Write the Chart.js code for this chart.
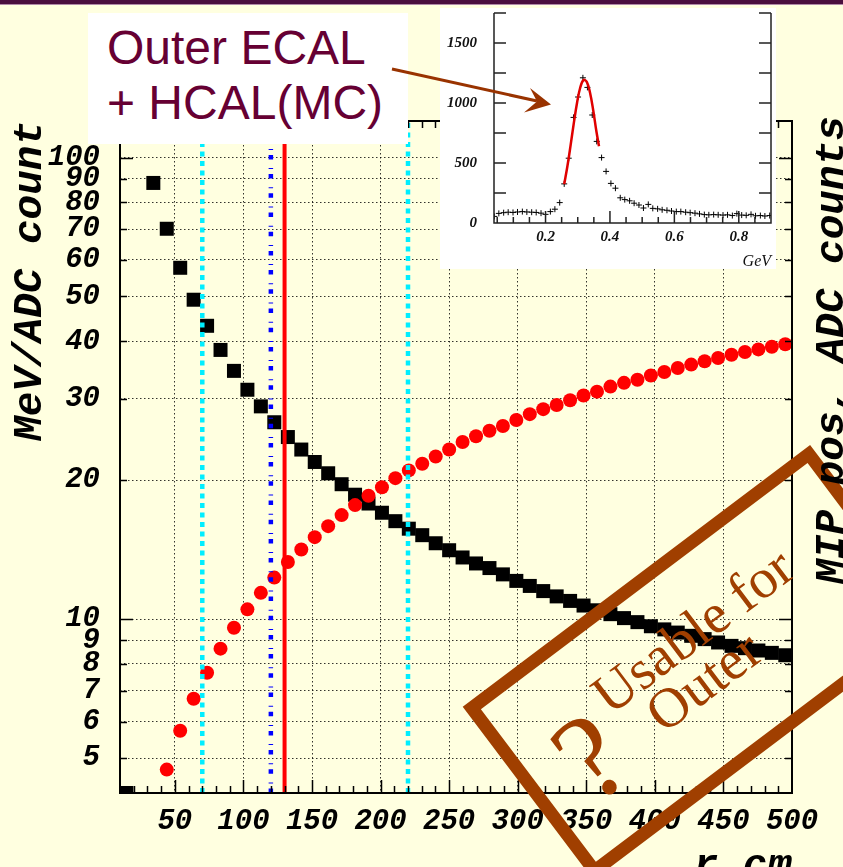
<!DOCTYPE html>
<html>
<head>
<meta charset="utf-8">
<title>Outer ECAL + HCAL calibration vs radius</title>
<script src="https://cdn.jsdelivr.net/npm/chart.js@4.4.1/dist/chart.umd.min.js"></script>
<style>
  html, body { margin: 0; padding: 0; }
  body {
    width: 843px; height: 867px; overflow: hidden; position: relative;
    background: #ffffe0; font-family: "Liberation Sans", Arial, sans-serif;
  }
  #topbar {
    position: absolute; left: 0; top: 0; width: 843px; height: 4px;
    background: #4a0e3e; border-bottom: 1px solid #b08aa8; z-index: 5;
  }
  #main { position: absolute; left: 0; top: 0; z-index: 1; }
  #caption {
    position: absolute; left: 88px; top: 13px; width: 320px; height: 131px;
    box-sizing: border-box; padding: 7px 0 0 19px; background: #fff;
    color: #660033; font-size: 48px; line-height: 55px; z-index: 2;
  }
  #inset {
    position: absolute; left: 440px; top: 8px; width: 336px; height: 261px;
    background: #fff; z-index: 2;
  }
  #arrow { position: absolute; left: 0; top: 0; z-index: 3; pointer-events: none; }
</style>
</head>
<body>
<div id="topbar"></div>
<canvas id="main" width="843" height="867"></canvas>
<div id="caption">Outer ECAL<br>+ HCAL(MC)</div>
<div id="inset"><canvas id="insetChart" width="336" height="261"></canvas></div>
<svg id="arrow" width="843" height="867">
  <line x1="392" y1="69" x2="537" y2="101" stroke="#993300" stroke-width="3"/>
  <polygon points="551,104.5 530,88 537,101.5 524,112.5" fill="#993300"/>
</svg>
<script>
// ---- main plot: calibration constants per radial bin ----
// bin centres in r (cm)
const radiusCm = [14.7, 24.5, 34.3, 44.1, 53.9, 63.7, 73.5, 83.3, 93.1, 102.9,
  112.7, 122.5, 132.4, 142.2, 152.0, 161.8, 171.6, 181.4, 191.2, 201.0,
  210.8, 220.6, 230.4, 240.2, 250.0, 259.8, 269.6, 279.4, 289.2, 299.0,
  308.8, 318.6, 328.4, 338.2, 348.0, 357.8, 367.6, 377.5, 387.3, 397.1,
  406.9, 416.7, 426.5, 436.3, 446.1, 455.9, 465.7, 475.5, 485.3, 495.1];

// MeV per ADC count (black squares)
const mevPerAdc = [4.2, null, 88.1, 70.1, 57.7, 49.2, 43.2, 38.3, 34.5, 31.4,
  28.9, 26.7, 24.8, 23.3, 21.9, 20.7, 19.6, 18.6, 17.8, 17.0,
  16.3, 15.7, 15.2, 14.6, 14.1, 13.6, 13.2, 12.9, 12.5, 12.1,
  11.8, 11.5, 11.2, 10.95, 10.7, 10.45, 10.25, 10.05, 9.85, 9.65,
  9.5, 9.35, 9.2, 9.05, 8.9, 8.75, 8.65, 8.55, 8.45, 8.35];

// MIP peak position in ADC counts (red circles)
const mipPosAdc = [null, null, null, 4.72, 5.73, 6.72, 7.65, 8.63, 9.58, 10.5,
  11.4, 12.3, 13.3, 14.15, 15.05, 15.9, 16.8, 17.66, 18.5, 19.3,
  20.2, 21.0, 21.7, 22.5, 23.3, 24.2, 24.9, 25.6, 26.2, 27.0,
  27.8, 28.5, 29.1, 29.8, 30.5, 31.1, 31.9, 32.5, 33.0, 33.7,
  34.3, 35.0, 35.6, 36.2, 36.8, 37.4, 37.9, 38.4, 38.9, 39.4];

const xTickValues = [50, 100, 150, 200, 250, 300, 350, 400, 450, 500];
const yTickValues = [5, 6, 7, 8, 9, 10, 20, 30, 40, 50, 60, 70, 80, 90, 100];

// radii of the region boundaries drawn as vertical lines
const boundaryRadii = [70, 120, 130, 220];

// ---- inset: MIP spectrum of one channel ----
const histEnergy = [0.041, 0.055, 0.070, 0.084, 0.099, 0.113, 0.128, 0.142, 0.157, 0.171,
  0.186, 0.200, 0.215, 0.229, 0.244, 0.258, 0.272, 0.287, 0.301, 0.316,
  0.330, 0.345, 0.359, 0.374, 0.388, 0.403, 0.417, 0.432, 0.446, 0.461,
  0.475, 0.490, 0.504, 0.519, 0.533, 0.548, 0.562, 0.577, 0.591, 0.606,
  0.620, 0.635, 0.649, 0.664, 0.678, 0.693, 0.707, 0.722, 0.736, 0.751,
  0.765, 0.780, 0.794, 0.809, 0.823, 0.838, 0.852, 0.867, 0.881, 0.896];
const histCounts = [55, 80, 86, 90, 88, 92, 95, 92, 90, 88,
  82, 72, 95, 115, 170, 326, 540, 880, 1050, 1210,
  1130, 900, 680, 545, 430, 330, 290, 210, 195, 185,
  165, 150, 125, 155, 122, 118, 110, 106, 100, 95,
  95, 90, 86, 82, 76, 70, 68, 70, 68, 66,
  68, 62, 78, 66, 64, 72, 60, 62, 58, 62];

// gaussian fit over the peak
const fitEnergy = [0.258, 0.268, 0.278, 0.288, 0.298, 0.308, 0.318, 0.328, 0.338, 0.348, 0.358, 0.366];
const fitCounts = [324, 475, 651, 836, 1004, 1131, 1191, 1176, 1087, 940, 762, 640];

const insetXTicks = [0.2, 0.4, 0.6, 0.8];
const insetYTicks = [0, 500, 1000, 1500];

// ---- styles ----
const monoFamily = "'Liberation Mono', 'Courier New', monospace";
const tickFont = { family: monoFamily, size: 29, style: 'italic', weight: 'bold' };
const titleFont = { family: monoFamily, size: 41, style: 'italic', weight: 'bold' };
const serifNum = { family: "'Liberation Serif', 'Times New Roman', serif", size: 15, style: 'italic', weight: 'bold' };
const stampColor = '#a03f00';

const boundaryStyles = [
  { color: '#00eeff', width: 4.5, dash: [5, 4.5] },
  { color: '#0000ff', width: 4.5, dash: [4.5, 5, 1, 8.7] },
  { color: '#ff0000', width: 4, dash: [] },
  { color: '#00eeff', width: 4.5, dash: [5, 4.5] }
];

function toPoints(xs, ys) {
  return xs.map((x, i) => ({ x: x, y: ys[i] })).filter(p => p.y != null);
}

// frame, inward ticks, boundaries, stamp and right-hand title
const mainOverlay = {
  id: 'mainOverlay',
  afterDatasetsDraw(chart) {
    const { ctx, chartArea: a, scales: { x, y } } = chart;
    ctx.save();
    boundaryRadii.forEach((r, i) => {
      const st = boundaryStyles[i];
      const px = x.getPixelForValue(r);
      ctx.strokeStyle = st.color;
      ctx.lineWidth = st.width;
      ctx.setLineDash(st.dash);
      ctx.beginPath();
      ctx.moveTo(px, a.bottom);
      ctx.lineTo(px, a.top);
      ctx.stroke();
    });
    ctx.setLineDash([]);
    ctx.strokeStyle = '#000';
    ctx.lineWidth = 1.5;
    ctx.beginPath();
    for (let r = 20; r < 500; r += 10) {
      const px = Math.round(x.getPixelForValue(r)) + 0.5;
      const len = r % 50 === 0 ? 13 : 7;
      ctx.moveTo(px, a.bottom); ctx.lineTo(px, a.bottom - len);
      ctx.moveTo(px, a.top); ctx.lineTo(px, a.top + len);
    }
    yTickValues.forEach(v => {
      const py = Math.round(y.getPixelForValue(v)) + 0.5;
      const len = (v === 10 || v === 100) ? 13 : 7;
      ctx.moveTo(a.left, py); ctx.lineTo(a.left + len, py);
      ctx.moveTo(a.right, py); ctx.lineTo(a.right - len, py);
    });
    ctx.stroke();
    ctx.lineWidth = 2;
    ctx.strokeRect(a.left, a.top, a.right - a.left, a.bottom - a.top);
    ctx.restore();
  },
  afterDraw(chart) {
    const ctx = chart.ctx;
    // tilted "? Usable for Outer" box
    ctx.save();
    ctx.translate(462.7, 706.7);
    ctx.rotate(-37 * Math.PI / 180);
    ctx.strokeStyle = stampColor;
    ctx.lineWidth = 13;
    ctx.strokeRect(6.5, 6.5, 435 - 13, 217 - 13);
    ctx.fillStyle = stampColor;
    ctx.font = "56px 'Liberation Serif', 'Times New Roman', serif";
    ctx.fillText('Usable for', 112, 96);
    ctx.fillText('Outer', 144, 143);
    ctx.font = "124px 'Liberation Serif', 'Times New Roman', serif";
    ctx.fillText('?', 44, 158);
    ctx.restore();

    ctx.save();
    ctx.translate(843, 350);
    ctx.rotate(-Math.PI / 2);
    ctx.font = "italic bold 41px " + monoFamily;
    ctx.fillStyle = '#000';
    ctx.textAlign = 'center';
    ctx.fillText('MIP pos, ADC counts', 0, 0);
    ctx.restore();
  }
};

new Chart(document.getElementById('main'), {
  type: 'scatter',
  data: {
    datasets: [
      {
        label: 'MIP pos, ADC counts',
        data: toPoints(radiusCm, mipPosAdc),
        pointStyle: 'circle',
        pointRadius: 7,
        pointBackgroundColor: '#ff0000',
        pointBorderWidth: 0,
        order: 0,
        clip: 0
      },
      {
        label: 'MeV/ADC count',
        data: toPoints(radiusCm, mevPerAdc),
        pointStyle: 'rect',
        pointRadius: 9.9,
        pointBackgroundColor: '#000',
        pointBorderWidth: 0,
        order: 1,
        clip: 0
      }
    ]
  },
  options: {
    responsive: false,
    animation: false,
    devicePixelRatio: 1,
    layout: { padding: { top: 121, left: 0, right: 0, bottom: 0 } },
    plugins: { legend: { display: false }, tooltip: { enabled: false } },
    scales: {
      x: {
        type: 'linear', position: 'bottom', min: 10, max: 500,
        afterBuildTicks: s => { s.ticks = xTickValues.map(v => ({ value: v })); },
        afterFit: s => { s.height = 74; s.paddingLeft = 0; s.paddingRight = 0; },
        ticks: { autoSkip: false, maxRotation: 0, padding: 11, color: '#000', font: tickFont,
          callback: v => String(v) },
        grid: { color: 'rgba(0,0,0,0.8)', lineWidth: 1, drawTicks: false },
        border: { display: false, dash: [1.5, 2.5] },
        title: { display: true, text: 'r,cm', align: 'end', color: '#000', font: titleFont,
          padding: { top: 0, bottom: -24 } }
      },
      y: {
        type: 'logarithmic', position: 'left', min: 4.2, max: 120,
        afterBuildTicks: s => { s.ticks = yTickValues.map(v => ({ value: v })); },
        afterFit: s => { s.width = 120; s.paddingTop = 0; s.paddingBottom = 0; },
        ticks: { autoSkip: false, padding: 20, color: '#000', font: tickFont,
          callback: v => String(v) },
        grid: { color: 'rgba(0,0,0,0.8)', lineWidth: 1, drawTicks: false },
        border: { display: false, dash: [1.5, 2.5] },
        title: { display: true, text: 'MeV/ADC count', align: 'end', color: '#000', font: titleFont,
          padding: { top: 6, bottom: 0 } }
      },
      y2: {
        type: 'logarithmic', position: 'right', min: 4.2, max: 120,
        afterFit: s => { s.width = 51; s.paddingTop = 0; s.paddingBottom = 0; },
        ticks: { display: false },
        grid: { display: false, drawTicks: false },
        border: { display: false }
      }
    }
  },
  plugins: [mainOverlay]
});

// inset frame with ticks on three sides
const insetOverlay = {
  id: 'insetOverlay',
  afterDatasetsDraw(chart) {
    const { ctx, chartArea: a, scales: { x, y } } = chart;
    ctx.save();
    ctx.strokeStyle = '#222';
    ctx.lineWidth = 1.5;
    ctx.beginPath();
    ctx.moveTo(a.left, a.top); ctx.lineTo(a.left, a.bottom);
    ctx.lineTo(a.right, a.bottom); ctx.lineTo(a.right, a.top);
    for (let c = 0; c <= 1750; c += 250) {
      const py = y.getPixelForValue(c);
      ctx.moveTo(a.left, py); ctx.lineTo(a.left + 12, py);
      ctx.moveTo(a.right, py); ctx.lineTo(a.right - 12, py);
    }
    for (let k = 1; k < 18; k++) {
      const px = x.getPixelForValue(k * 0.05);
      if (px < a.left + 1) continue;
      const len = k % 4 === 0 ? 12 : 6;
      ctx.moveTo(px, a.bottom); ctx.lineTo(px, a.bottom - len);
    }
    ctx.stroke();
    ctx.restore();
  }
};

new Chart(document.getElementById('insetChart'), {
  type: 'scatter',
  data: {
    datasets: [
      {
        label: 'fit',
        data: toPoints(fitEnergy, fitCounts),
        showLine: true,
        borderColor: '#e00000',
        borderWidth: 2.5,
        pointRadius: 0,
        tension: 0.4,
        order: 0
      },
      {
        label: 'spectrum',
        data: toPoints(histEnergy, histCounts),
        pointStyle: 'cross',
        pointRadius: 3,
        pointBorderColor: '#000',
        pointBorderWidth: 1,
        order: 1
      }
    ]
  },
  options: {
    responsive: false,
    animation: false,
    devicePixelRatio: 1,
    layout: { padding: { top: 1, right: 4, left: 0, bottom: 0 } },
    plugins: { legend: { display: false }, tooltip: { enabled: false } },
    scales: {
      x: {
        type: 'linear', min: 0.04, max: 0.9,
        afterBuildTicks: s => { s.ticks = insetXTicks.map(v => ({ value: v })); },
        afterFit: s => { s.height = 46; s.paddingLeft = 0; s.paddingRight = 0; },
        ticks: { autoSkip: false, maxRotation: 0, padding: 5, color: '#111', font: serifNum,
          callback: v => v.toFixed(1) },
        grid: { display: false, drawTicks: false },
        border: { display: false },
        title: { display: true, text: 'GeV', align: 'end', color: '#111',
          font: { family: "'Liberation Serif', 'Times New Roman', serif", size: 16, style: 'italic' },
          padding: { top: 0, bottom: -2.6 } }
      },
      y: {
        type: 'linear', min: 0, max: 1750,
        afterBuildTicks: s => { s.ticks = insetYTicks.map(v => ({ value: v })); },
        afterFit: s => { s.width = 54; s.paddingTop = 0; s.paddingBottom = 0; },
        ticks: { autoSkip: false, padding: 17, color: '#111', font: serifNum,
          callback: v => String(v) },
        grid: { display: false, drawTicks: false },
        border: { display: false }
      }
    }
  },
  plugins: [insetOverlay]
});
</script>
</body>
</html>
